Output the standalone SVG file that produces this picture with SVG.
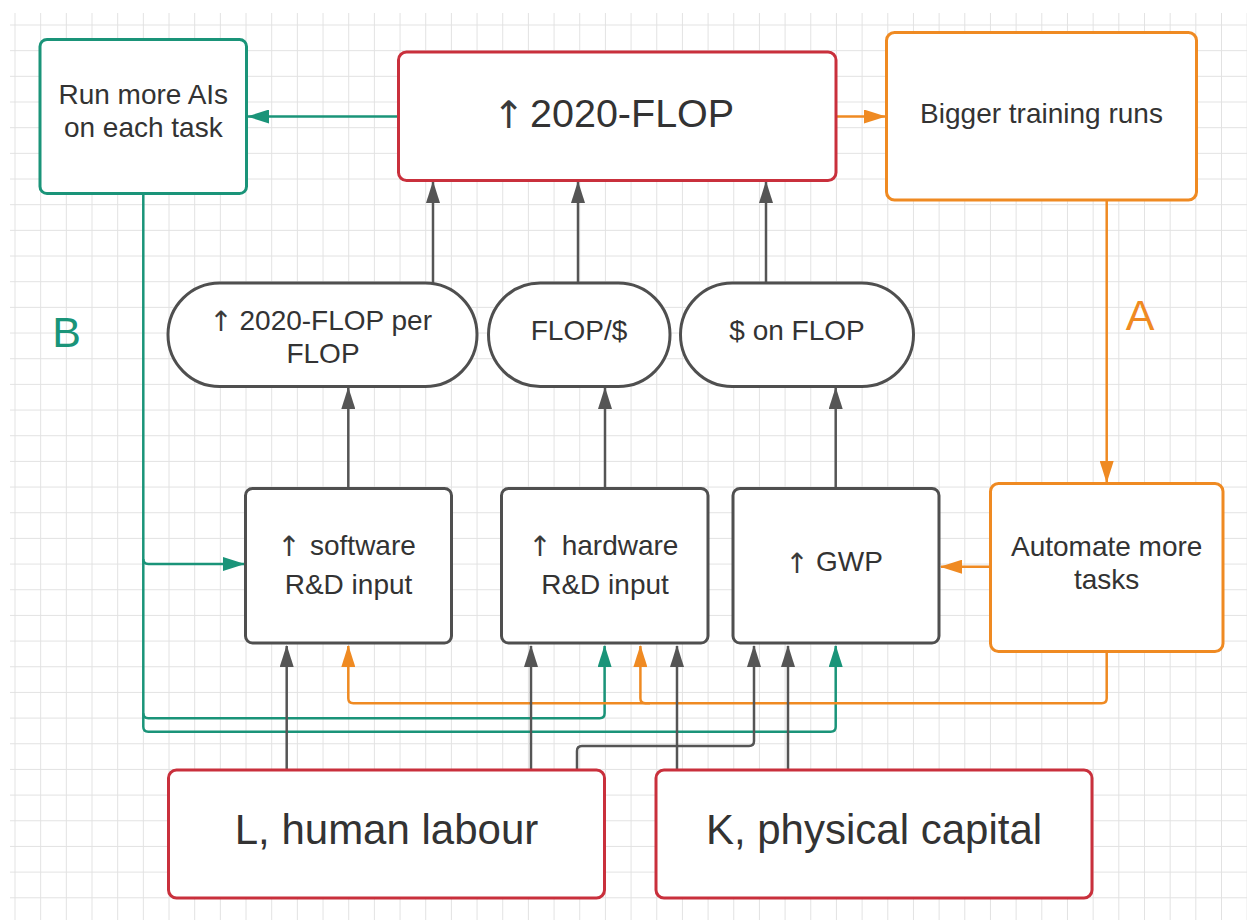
<svg xmlns="http://www.w3.org/2000/svg" width="1247" height="920" viewBox="0 0 1247 920">
<defs>
<pattern id="grid" x="14.5" y="24.5" width="25.67" height="25.67" patternUnits="userSpaceOnUse">
<path d="M0,0.5 H25.67 M0.5,0 V25.67" stroke="#e2e2e2" stroke-width="1" fill="none"/>
</pattern>
<marker id="ag" markerUnits="userSpaceOnUse" markerWidth="22" markerHeight="14" viewBox="0 0 22 14" refX="21" refY="7" orient="auto"><path d="M0,0 L22,7 L0,14 z" fill="#555"/></marker>
<marker id="at" markerUnits="userSpaceOnUse" markerWidth="22" markerHeight="14" viewBox="0 0 22 14" refX="21" refY="7" orient="auto"><path d="M0,0 L22,7 L0,14 z" fill="#1a9479"/></marker>
<marker id="ao" markerUnits="userSpaceOnUse" markerWidth="22" markerHeight="14" viewBox="0 0 22 14" refX="21" refY="7" orient="auto"><path d="M0,0 L22,7 L0,14 z" fill="#ef8a22"/></marker>
</defs>
<style>
text{font-family:"Liberation Sans",Arial,sans-serif;fill:#333;text-anchor:middle}
.t{font-size:28px}
.s{text-anchor:start}
.ar{font-family:"DejaVu Sans",sans-serif;font-size:28px;fill:#3a3a3a}
.arb{font-family:"DejaVu Sans",sans-serif;font-size:38px;fill:#3a3a3a}
.big{font-size:39.5px}
.huge{font-size:42px}
.red{fill:#fff;stroke:#c9303c;stroke-width:3}
.teal{fill:#fff;stroke:#1a9479;stroke-width:3}
.orange{fill:#fff;stroke:#ef8a22;stroke-width:3}
.gray{fill:#fff;stroke:#4f4f4f;stroke-width:3}
.cg{fill:none;stroke:#555;stroke-width:2.5;marker-end:url(#ag)}
.ct{fill:none;stroke:#1a9479;stroke-width:2.5}
.cta{fill:none;stroke:#1a9479;stroke-width:2.5;marker-end:url(#at)}
.coa{fill:none;stroke:#ef8a22;stroke-width:2.5;marker-end:url(#ao)}
</style>
<rect x="10" y="13" width="1237" height="907" fill="url(#grid)"/>

<g id="connectors">
<path class="cta" d="M398,116.5 H248"/>
<path class="coa" d="M836,116.5 H885"/>
<path class="coa" d="M1106.7,201 V482"/>
<path class="coa" d="M990,566.7 H941"/>
<path class="cg" d="M433,283 V182"/>
<path class="cg" d="M578,283 V182"/>
<path class="cg" d="M766,283 V182"/>
<path class="cg" d="M348.3,488 V388"/>
<path class="cg" d="M605,488 V388"/>
<path class="cg" d="M835.7,488 V388"/>
<path class="ct" d="M143.3,194.5 V726.7 Q143.3,731.7 148.3,731.7 H830.7 Q835.7,731.7 835.7,726.7 V646" marker-end="url(#at)"/>
<path class="cta" d="M143.3,559 Q143.3,564 148.3,564 H244"/>
<path class="cta" d="M143.3,713.3 Q143.3,718.3 148.3,718.3 H599.6 Q604.6,718.3 604.6,713.3 V646"/>
<path class="coa" d="M1106.7,653 V698.3 Q1106.7,703.3 1101.7,703.3 H353.3 Q348.3,703.3 348.3,698.3 V646"/>
<path class="coa" d="M650,703.3 H645.4 Q640.4,703.3 640.4,698.3 V646"/>
<path class="cg" d="M286.7,770 V646"/>
<path class="cg" d="M531,770 V646"/>
<path class="cg" d="M577,770 V751 Q577,746 582,746 H749 Q754,746 754,741 V646"/>
<path class="cg" d="M677,770 V646"/>
<path class="cg" d="M788,770 V646"/>
</g>

<g id="run-more-ais">
<rect class="teal" x="40" y="39.5" width="206.5" height="154" rx="7"/>
<text class="t" x="143.3" y="104">Run more AIs</text>
<text class="t" x="143.3" y="136.5">on each task</text>
</g>
<g id="flop2020">
<rect class="red" x="398.5" y="52" width="437.5" height="128.5" rx="8"/>
<text class="arb" x="509" y="128">↑</text>
<text class="big s" x="530" y="127">2020-FLOP</text>
</g>
<g id="bigger-training-runs">
<rect class="orange" x="886.5" y="32.5" width="310" height="167.5" rx="8"/>
<text class="t" x="1041.5" y="123">Bigger training runs</text>
</g>
<g id="flop-per-flop">
<rect class="gray" x="168" y="283" width="309" height="103.5" rx="51.7"/>
<text class="ar" x="221" y="330.5">↑</text>
<text class="t s" x="239.5" y="329.5">2020-FLOP per</text>
<text class="t" x="323" y="362.5">FLOP</text>
</g>
<g id="flop-per-dollar">
<rect class="gray" x="488.5" y="283" width="181.5" height="103.5" rx="51.7"/>
<text class="t" x="579" y="340">FLOP/$</text>
</g>
<g id="dollar-on-flop">
<rect class="gray" x="680.5" y="283" width="233" height="103.5" rx="51.7"/>
<text class="t" x="797" y="340">$ on FLOP</text>
</g>
<g id="software">
<rect class="gray" x="245.5" y="488.5" width="206" height="154.5" rx="7"/>
<text class="ar" x="289" y="556">↑</text>
<text class="t s" x="310" y="555">software</text>
<text class="t" x="348.5" y="594">R&amp;D input</text>
</g>
<g id="hardware">
<rect class="gray" x="501.5" y="488.5" width="206.5" height="154.5" rx="7"/>
<text class="ar" x="540" y="556">↑</text>
<text class="t s" x="561.7" y="555">hardware</text>
<text class="t" x="605" y="594">R&amp;D input</text>
</g>
<g id="gwp">
<rect class="gray" x="733" y="488.5" width="206" height="154.5" rx="7"/>
<text class="ar" x="797" y="573">↑</text>
<text class="t s" x="816" y="571">GWP</text>
</g>
<g id="automate">
<rect class="orange" x="990.5" y="483.5" width="232.5" height="168" rx="8"/>
<text class="t" x="1106.7" y="556">Automate more</text>
<text class="t" x="1106.7" y="588.5">tasks</text>
</g>
<g id="labour">
<rect class="red" x="168.5" y="770" width="436" height="128" rx="8"/>
<text class="huge" x="386.5" y="844">L, human labour</text>
</g>
<g id="capital">
<rect class="red" x="656" y="770" width="436" height="128" rx="8"/>
<text class="huge" x="874" y="844">K, physical capital</text>
</g>
<g id="labels">
<text style="font-size:43px;fill:#ef8a22" x="1140" y="330">A</text>
<text style="font-size:43px;fill:#1a9479" x="66.5" y="347">B</text>
</g>
</svg>
